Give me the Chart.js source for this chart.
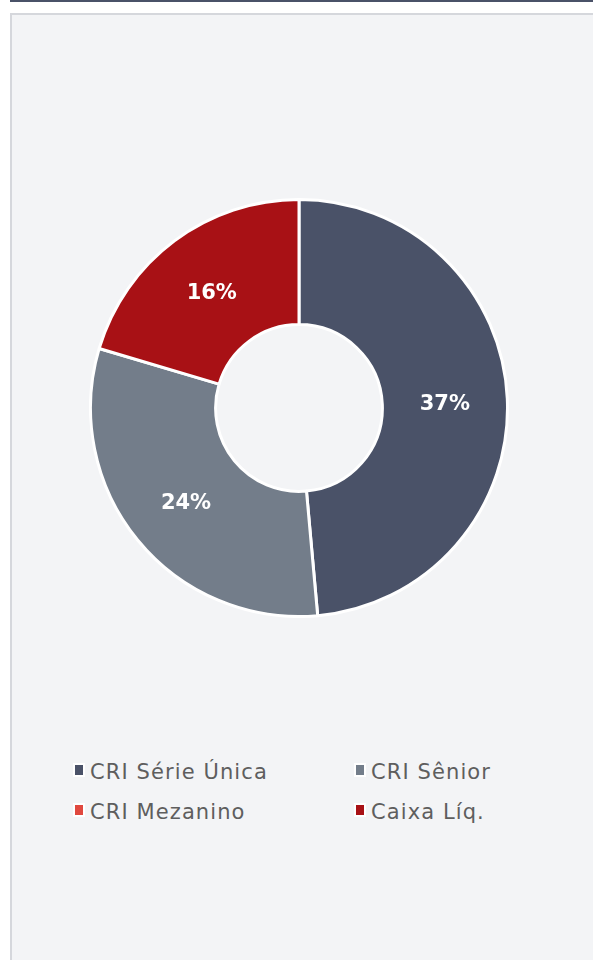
<!DOCTYPE html>
<html>
<head>
<meta charset="utf-8">
<script src="https://cdn.jsdelivr.net/npm/chart.js@4.4.1/dist/chart.umd.min.js"></script>
<style>
  html, body { margin: 0; padding: 0; background: #ffffff; width: 593px; height: 960px; overflow: hidden; }
  .topline { position: absolute; left: 10px; top: 0; width: 600px; height: 2px; background: #4a5268; }
  .panel { position: absolute; left: 10px; top: 13px; width: 620px; height: 1000px; background: #f3f4f6;
           border: 2px solid #d5d7dc; box-sizing: border-box; }
  .chartbox { position: absolute; left: 89px; top: 198px; width: 420px; height: 420px; }
  #legend { position: absolute; left: 73px; top: 760px; width: 480px; font-family: "DejaVu Sans", sans-serif;
            font-size: 21px; letter-spacing: 1.1px; color: #5e5e5e; }
  #legend .item { position: absolute; white-space: nowrap; }
  #legend .box { display: inline-block; width: 8px; height: 10px; border: 2px solid #ffffff; vertical-align: 2px; margin-right: 5px; }
</style>
</head>
<body>
<div class="topline"></div>
<div class="panel"></div>
<div class="chartbox"><canvas id="myChart"></canvas></div>
<div id="legend"></div>
<script>
const labels = ['CRI Série Única', 'CRI Sênior', 'CRI Mezanino', 'Caixa Líq.']
const values = [37.4, 23.9, 0, 15.7]
const colors = ['#4a5268', '#737d8a', '#e0483f', '#a81115']

// draws the % inside each slice
const sliceLabels = {
    id: 'sliceLabels',
    afterDatasetsDraw(chart) {
        const ctx = chart.ctx
        const meta = chart.getDatasetMeta(0)
        ctx.save()
        ctx.font = 'bold 21px "DejaVu Sans", sans-serif'
        ctx.fillStyle = '#ffffff'
        ctx.textAlign = 'center'
        ctx.textBaseline = 'middle'
        meta.data.forEach((arc, i) => {
            if (!values[i]) return
            const pos = arc.tooltipPosition()
            ctx.fillText(Math.round(values[i]) + '%', pos.x, pos.y + 3)
        })
        ctx.restore()
    }
}

let chart = new Chart('myChart', {
    type: 'doughnut',
    data: {
        labels: labels,
        datasets: [{
            data: values,
            backgroundColor: colors,
            borderColor: '#ffffff',
            borderWidth: 3
        }]
    },
    options: {
        responsive: true,
        maintainAspectRatio: false,
        animation: false,
        cutout: '40%',
        plugins: {
            legend: { display: false },
            tooltip: { enabled: false }
        }
    },
    plugins: [sliceLabels]
})

// two-column legend
const legend = document.getElementById('legend')
labels.forEach((name, i) => {
    const el = document.createElement('div')
    el.className = 'item'
    el.style.left = (i % 2 ? 281 : 0) + 'px'
    el.style.top = (Math.floor(i / 2) * 40) + 'px'
    el.innerHTML = '<span class="box" style="background:' + colors[i] + '"></span>' + name
    legend.appendChild(el)
})
</script>
</body>
</html>
